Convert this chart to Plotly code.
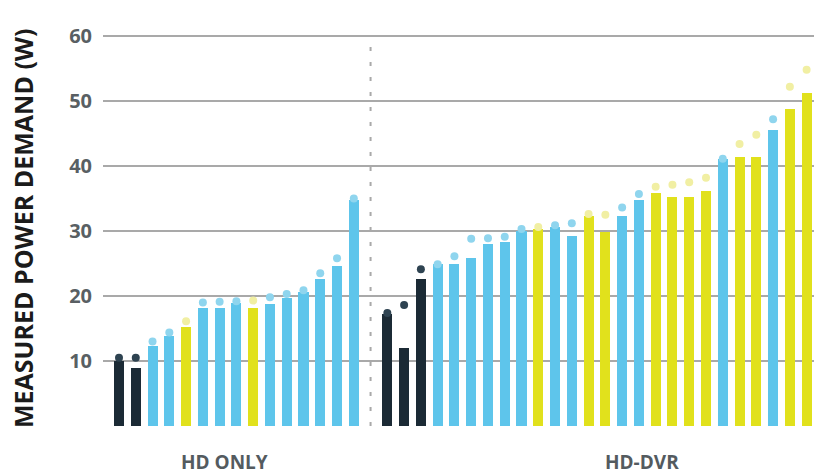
import plotly.graph_objects as go

# Measured power demand per set-top box (W): bar = measured value, dot = peak reading
hd_only_values = [10.0, 9.0, 12.3, 13.8, 15.3, 18.1, 18.1, 18.9, 18.1, 18.8, 19.7, 20.6, 22.6, 24.6, 34.7]
hd_only_peaks = [10.5, 10.5, 13.0, 14.4, 16.1, 19.0, 19.1, 19.2, 19.3, 19.8, 20.3, 20.9, 23.5, 25.8, 35.0]
hd_only_kinds = ["navy", "navy", "blue", "blue", "yellow", "blue", "blue", "blue", "yellow",
                 "blue", "blue", "blue", "blue", "blue", "blue"]

hd_dvr_values = [17.2, 12.0, 22.6, 24.9, 24.9, 25.8, 28.0, 28.3, 30.0, 30.3, 30.6, 29.3, 32.3,
                 29.8, 32.3, 34.7, 35.8, 35.2, 35.2, 36.2, 41.0, 41.4, 41.4, 45.6, 48.8, 51.2]
hd_dvr_peaks = [17.4, 18.6, 24.1, 24.9, 26.1, 28.8, 28.9, 29.1, 30.3, 30.6, 30.9, 31.2, 32.6,
                32.5, 33.6, 35.7, 36.8, 37.1, 37.5, 38.2, 41.1, 43.4, 44.8, 47.2, 52.2, 54.8]
hd_dvr_kinds = ["navy", "navy", "navy", "blue", "blue", "blue", "blue", "blue", "blue", "yellow",
                "blue", "blue", "yellow", "yellow", "blue", "blue", "yellow", "yellow", "yellow",
                "yellow", "blue", "yellow", "yellow", "blue", "yellow", "yellow"]

group_labels = ["HD ONLY", "HD-DVR"]
y_ticks = [10, 20, 30, 40, 50, 60]

bar_colors = {"navy": "#1b2a35", "blue": "#5ec5eb", "yellow": "#e1e11c"}
dot_colors = {"navy": "#2e4351", "blue": "#8fd5ee", "yellow": "#f1efa3"}

# slot positions: one empty slot separates the two groups
x_left = list(range(len(hd_only_values)))
gap = len(hd_only_values)
x_right = [gap + 1 + i for i in range(len(hd_dvr_values))]

xs = x_left + x_right
values = hd_only_values + hd_dvr_values
peaks = hd_only_peaks + hd_dvr_peaks
kinds = hd_only_kinds + hd_dvr_kinds

fig = go.Figure()
fig.add_trace(go.Bar(
    x=xs, y=values, width=0.6,
    marker=dict(color=[bar_colors[k] for k in kinds], line=dict(width=0)),
    hoverinfo="y", showlegend=False,
))
fig.add_trace(go.Scatter(
    x=xs, y=peaks, mode="markers",
    marker=dict(size=8, color=[dot_colors[k] for k in kinds], line=dict(width=0)),
    hoverinfo="y", showlegend=False,
))

# dotted divider between the groups
fig.add_shape(type="line", xref="x", yref="y", x0=gap, x1=gap, y0=0, y1=60,
              line=dict(color="#a9a9a9", width=2, dash="4px,11px"), layer="below")

font_family = "Open Sans, sans-serif"

fig.add_annotation(x=6.3, y=-0.09, xref="x", yref="paper", text="<b>" + group_labels[0] + "</b>",
                   xanchor="center", yanchor="middle", showarrow=False,
                   font=dict(family=font_family, size=19, color="#545b5f"))
fig.add_annotation(x=31.2, y=-0.09, xref="x", yref="paper", text="<b>" + group_labels[1] + "</b>",
                   xanchor="center", yanchor="middle", showarrow=False,
                   font=dict(family=font_family, size=19, color="#545b5f"))
fig.add_annotation(x=-0.1125, y=0.5, xref="paper", yref="paper",
                   text="<b>MEASURED POWER DEMAND (W)</b>",
                   textangle=-90, xanchor="center", yanchor="middle", showarrow=False,
                   font=dict(family=font_family, size=25, color="#1b1b1b"))

fig.update_layout(
    width=814, height=476,
    margin=dict(l=103, r=0, t=30, b=50),
    plot_bgcolor="white", paper_bgcolor="white",
    bargap=0,
    xaxis=dict(range=[-0.954, 41.44], showticklabels=False, showgrid=False,
               zeroline=False, showline=False, ticks=""),
    yaxis=dict(range=[0, 60.92], tickvals=y_ticks, showgrid=True, gridcolor="#a9a9a9",
               gridwidth=2, zeroline=False, showline=False, ticks="",
               ticklabelstandoff=10,
               tickfont=dict(family=font_family, size=20, color="#595f63", weight="bold")),
)

fig.write_html("out.html")
